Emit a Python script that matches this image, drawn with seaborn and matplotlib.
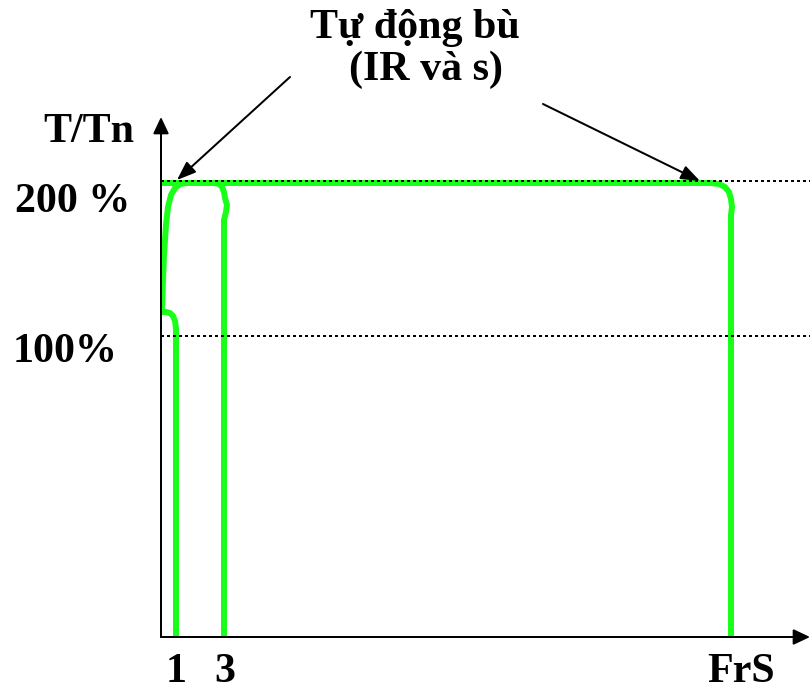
import matplotlib
matplotlib.use("Agg")
import matplotlib.pyplot as plt
import seaborn as sns
import pandas as pd

# Duong dac tinh moment (toa do tuong doi doc tu hinh)
curve1_x = [1, 5, 9, 12, 14, 15, 15]
curve1_y = [325, 325, 324, 321, 316, 309, 0]

curve3_x = [1, 2, 3, 5, 7, 10, 14, 19, 25, 53, 58, 61, 63, 64, 66, 65, 63, 63]
curve3_y = [325, 357, 382, 412, 430, 442, 449, 453, 454, 454, 453, 450, 445, 439, 432, 425, 417, 0]

frs_x = [0, 550, 558, 564, 568, 570, 571, 570, 570]
frs_y = [454, 454, 453, 450, 445, 438, 430, 422, 0]

levels = [456, 301]
level_labels = ["200 %", "100%"]
level_offsets = [(-146, -31), (-148, -26)]

xtick_pos = [15, 64, 580]
xtick_labels = ["1", "3", "FrS"]

green = "#1aff1a"

df = pd.concat([
    pd.DataFrame({"x": curve1_x, "y": curve1_y, "curve": "1"}),
    pd.DataFrame({"x": curve3_x, "y": curve3_y, "curve": "3"}),
    pd.DataFrame({"x": frs_x, "y": frs_y, "curve": "FrS"}),
])

sns.set_style("white")
plt.rcParams["font.family"] = ["Liberation Serif", "DejaVu Serif"]
plt.rcParams["font.weight"] = "bold"
plt.rcParams["text.color"] = "black"
plt.rcParams["xtick.color"] = "black"
plt.rcParams["xtick.labelcolor"] = "black"

fig = plt.figure(figsize=(810 / 72, 693 / 72), dpi=72)
ax = fig.add_axes([161 / 810, 56 / 693, 649 / 810, 520 / 693])

sns.lineplot(data=df, x="x", y="y", units="curve", estimator=None, sort=False,
             color=green, lw=6, ax=ax, zorder=2)

for lv in levels:
    ax.axhline(lv, color="black", lw=2, ls=(0, (1.5, 1.5)), zorder=3)

ax.set_xlim(0, 649)
ax.set_ylim(0, 520)
for s in ax.spines.values():
    s.set_visible(False)
ax.set_xlabel("")
ax.set_ylabel("")
ax.set_yticks([])
ax.set_xticks(xtick_pos)
ax.set_xticklabels(xtick_labels, fontsize=42, fontweight="bold", color="black")
ax.tick_params(axis="x", length=0, pad=16)

# truc toa do co mui ten
arrow = dict(arrowstyle="-|>,head_length=0.7,head_width=0.33", lw=2, color="black",
             shrinkA=0, shrinkB=0, mutation_scale=20)
ax.annotate("", xy=(1, 0), xytext=(0, 0), xycoords="axes fraction", arrowprops=arrow)
ax.annotate("", xy=(0, 1), xytext=(0, 0), xycoords="axes fraction", arrowprops=arrow)

for lv, lab, off in zip(levels, level_labels, level_offsets):
    ax.annotate(lab, xy=(0, lv), xycoords=ax.get_yaxis_transform(), xytext=off,
                textcoords="offset points", ha="left", va="baseline",
                fontsize=42, fontweight="bold", annotation_clip=False)

ax.annotate("T/Tn", xy=(0, 1), xycoords="axes fraction", xytext=(-118, -25),
            textcoords="offset points", ha="left", va="baseline",
            fontsize=42, fontweight="bold", annotation_clip=False)

fig.text(415 / 810, 1 - 38 / 693, "Tự động bù", ha="center", va="baseline",
         fontsize=42, fontweight="bold")
fig.text(426 / 810, 1 - 80 / 693, "(IR và s)", ha="center", va="baseline",
         fontsize=42, fontweight="bold")

pointer = dict(arrowstyle="-|>,head_length=0.8,head_width=0.3", lw=2, color="black",
               shrinkA=0, shrinkB=0, mutation_scale=20)
ax.annotate("", xy=(16, 457), xytext=(129, 560), arrowprops=pointer, annotation_clip=False)
ax.annotate("", xy=(539, 456), xytext=(382, 533), arrowprops=pointer, annotation_clip=False)

fig.savefig("out.png", dpi=72)
